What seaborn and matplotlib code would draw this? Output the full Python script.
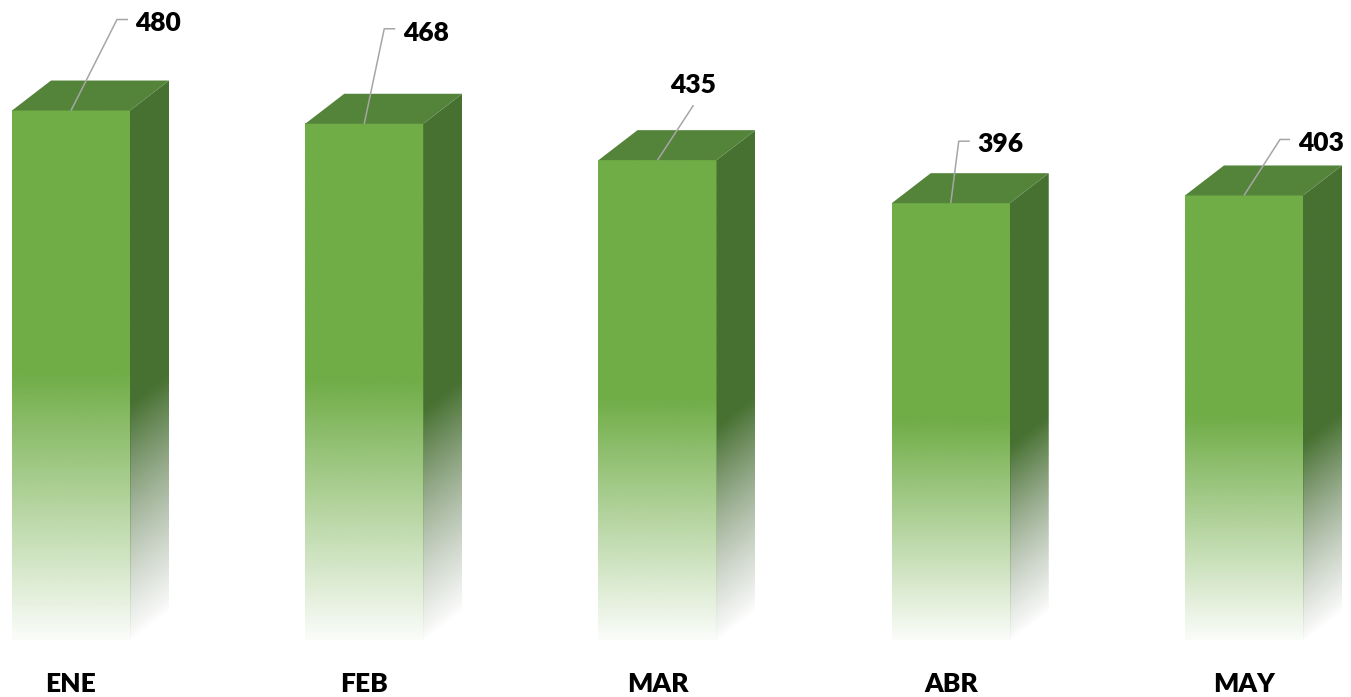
import numpy as np
import pandas as pd
import matplotlib
matplotlib.use("Agg")
import matplotlib.pyplot as plt
import seaborn as sns
from matplotlib.patches import Polygon
from matplotlib.colors import to_rgb

# ---- data ----
months = ["ENE", "FEB", "MAR", "ABR", "MAY"]
values = [480, 468, 435, 396, 403]
value_labels = ["480", "468", "435", "396", "403"]

# ---- style ----
FRONT = "#70AD47"
TOP = "#54843A"
SIDE = "#477131"
SIDE_FADE = "#9CA898"
LEADER = "#A6A6A6"
TEXT = "#000000"
WEIGHT = 800
DEPTH_PX = (39, 30)
# label layout, pixels relative to bar top-centre (up = positive):
# leader elbow, leader end, text anchor (x, baseline), alignment
LABEL_LAYOUT = [
    ((46, 91), (57, 91), (64, 80), "left"),
    ((20, 95), (31, 95), (39, 83), "left"),
    ((36, 55), (36, 55), (36, 67), "center"),
    ((8, 62), (19, 62), (27, 51), "left"),
    ((36, 56), (46, 56), (54, 44), "left"),
]

sns.set_theme(style="white")
plt.rcParams["font.family"] = ["Lato", "DejaVu Sans"]

fig = plt.figure(figsize=(13.51, 6.97), dpi=100)
fig.patch.set_facecolor("white")
ax = fig.add_axes([0, 57 / 697, 1, 640 / 697])

df = pd.DataFrame({"mes": months, "valor": values})
sns.barplot(data=df, x="mes", y="valor", color=FRONT, width=0.4024,
            saturation=1, ax=ax)

ax.set_xlim(-0.2421, 4.3649)
ax.set_ylim(0, 580.2)
for s in ax.spines.values():
    s.set_visible(False)
ax.set_yticks([])
ax.set_xlabel("")
ax.set_ylabel("")
ax.set_xticks(range(len(months)))
ax.set_xticklabels(months, fontweight=WEIGHT, fontsize=19, color=TEXT)
ax.tick_params(axis="x", length=0, pad=23)

# pixel -> data conversion
o = ax.transData.transform((0, 0))
ux = ax.transData.transform((1, 0))[0] - o[0]
uy = ax.transData.transform((0, 1))[1] - o[1]
dxd = DEPTH_PX[0] / ux
dyd = DEPTH_PX[1] / uy

front_rgb = np.array(to_rgb(FRONT))
side_rgb = np.array(to_rgb(SIDE))
fade_rgb = np.array(to_rgb(SIDE_FADE))
inv = ax.transData.inverted()

for i, p in enumerate(list(ax.patches)):
    x0, w, h = p.get_x(), p.get_width(), p.get_height()
    x1 = x0 + w
    p.set_visible(False)

    # front face with fade
    n = 300
    t = np.linspace(0, 1, n)
    a = np.clip(0.03 + 0.97 * t / 0.5, 0, 1)
    img = np.zeros((n, 1, 4))
    img[:, 0, :3] = front_rgb
    img[:, 0, 3] = a
    ax.imshow(img, extent=(x0, x1, 0, h), origin="lower", aspect="auto",
              interpolation="bilinear", zorder=2)

    # side face
    nx, ny = 40, 300
    X, Y = np.meshgrid(np.linspace(x1, x1 + dxd, nx),
                       np.linspace(0, h + dyd, ny))
    base = dyd * (X - x1) / dxd
    ts = np.clip((Y - base) / h, 0, 1)
    a2 = np.clip(ts / 0.45, 0, 1)
    simg = np.zeros((ny, nx, 4))
    for c in range(3):
        simg[..., c] = side_rgb[c] * a2 + fade_rgb[c] * (1 - a2)
    simg[..., 3] = np.clip(a2 ** 0.8 + 0.02, 0, 1)
    poly = Polygon([(x1, 0), (x1 + dxd, dyd), (x1 + dxd, h + dyd), (x1, h)],
                   closed=True, facecolor="none", edgecolor="none",
                   transform=ax.transData)
    ax.add_patch(poly)
    im = ax.imshow(simg, extent=(x1, x1 + dxd, 0, h + dyd), origin="lower",
                   aspect="auto", interpolation="bilinear", zorder=2)
    im.set_clip_path(poly)

    # top face
    ax.add_patch(Polygon([(x0, h), (x1, h), (x1 + dxd, h + dyd),
                          (x0 + dxd, h + dyd)], closed=True,
                         facecolor=TOP, edgecolor="none", zorder=3))

    # leader + label
    cx = x0 + w / 2
    top = ax.transData.transform((cx, h))
    elbow, end, txt, ha = LABEL_LAYOUT[i]
    pts = inv.transform([top, top + np.array(elbow), top + np.array(end)])
    ax.plot(pts[:, 0], pts[:, 1], color=LEADER, lw=1.1, zorder=5,
            clip_on=False, solid_capstyle="butt")
    tp = inv.transform(top + np.array(txt))
    ax.text(tp[0], tp[1], value_labels[i], ha=ha, va="baseline",
            fontsize=19, fontweight=WEIGHT, color=TEXT, zorder=6,
            clip_on=False)

ax.set_xlim(-0.2421, 4.3649)
ax.set_ylim(0, 580.2)
fig.savefig("out.png", dpi=100, facecolor="white")
